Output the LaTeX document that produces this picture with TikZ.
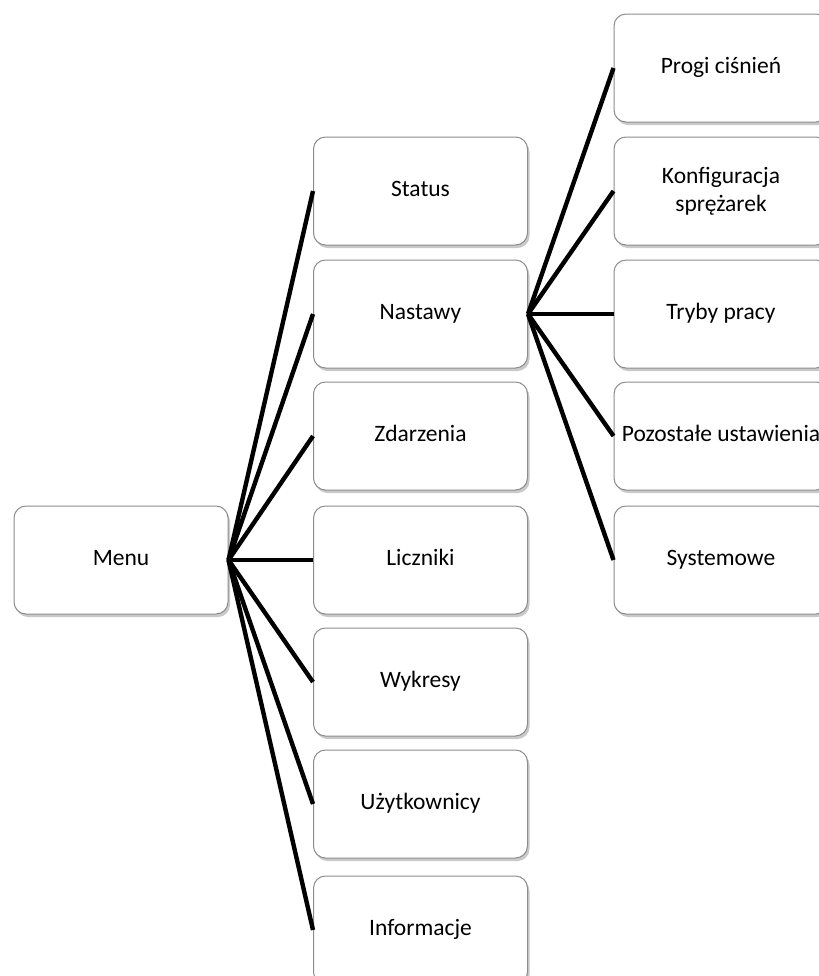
\documentclass[tikz,border=0pt]{standalone}
\usepackage{fontspec}
\setmainfont{Carlito}
\usetikzlibrary{shadows}

\begin{document}
\begin{tikzpicture}[x=0.5pt,y=-0.5pt,
    box/.style={draw=black!45, line width=0.5pt, fill=white, rounded corners=6pt,
        minimum width=107pt, minimum height=54pt, inner sep=0pt, align=center,
        text height=8.6pt, text depth=2.9pt,
        font=\fontsize{11.75}{14}\selectfont,
        drop shadow={shadow xshift=1pt, shadow yshift=-1.5pt, opacity=0.3, fill=black!70}},
    link/.style={line width=2.2pt, color=black}]
            \useasboundingbox (0,0) rectangle (819,976);

            % root
            \node[box] (menu) at (121,560) {Menu};

            % first level
            \node[box] (status) at (420.5,191) {Status};
            \node[box] (nastawy) at (420.5,314) {Nastawy};
            \node[box] (zdarzenia) at (420.5,436) {Zdarzenia};
            \node[box] (liczniki) at (420.5,560) {Liczniki};
            \node[box] (wykresy) at (420.5,682) {Wykresy};
            \node[box] (uzytkownicy) at (420.5,804) {Użytkownicy};
            \node[box] (informacje) at (420.5,930) {Informacje};

            % second level (under Nastawy)
            \node[box] (progi) at (721,68) {Progi ciśnień};
            \node[box, text height=, text depth=] (konfiguracja) at (721,191) {Konfiguracja\\sprężarek};
            \node[box] (tryby) at (721,314) {Tryby pracy};
            \node[box] (pozostale) at (721,436) {Pozostałe ustawienia};
            \node[box] (systemowe) at (721,560) {Systemowe};

            % connections from menu
            \draw[link] (menu.east) -- (status.west);
            \draw[link] (menu.east) -- (nastawy.west);
            \draw[link] (menu.east) -- (zdarzenia.west);
            \draw[link] (menu.east) -- (liczniki.west);
            \draw[link] (menu.east) -- (wykresy.west);
            \draw[link] (menu.east) -- (uzytkownicy.west);
            \draw[link] (menu.east) -- (informacje.west);

            % connections from nastawy
            \draw[link] (nastawy.east) -- (progi.west);
            \draw[link] (nastawy.east) -- (konfiguracja.west);
            \draw[link] (nastawy.east) -- (tryby.west);
            \draw[link] (nastawy.east) -- (pozostale.west);
            \draw[link] (nastawy.east) -- (systemowe.west);
        \end{tikzpicture}
\end{document}
